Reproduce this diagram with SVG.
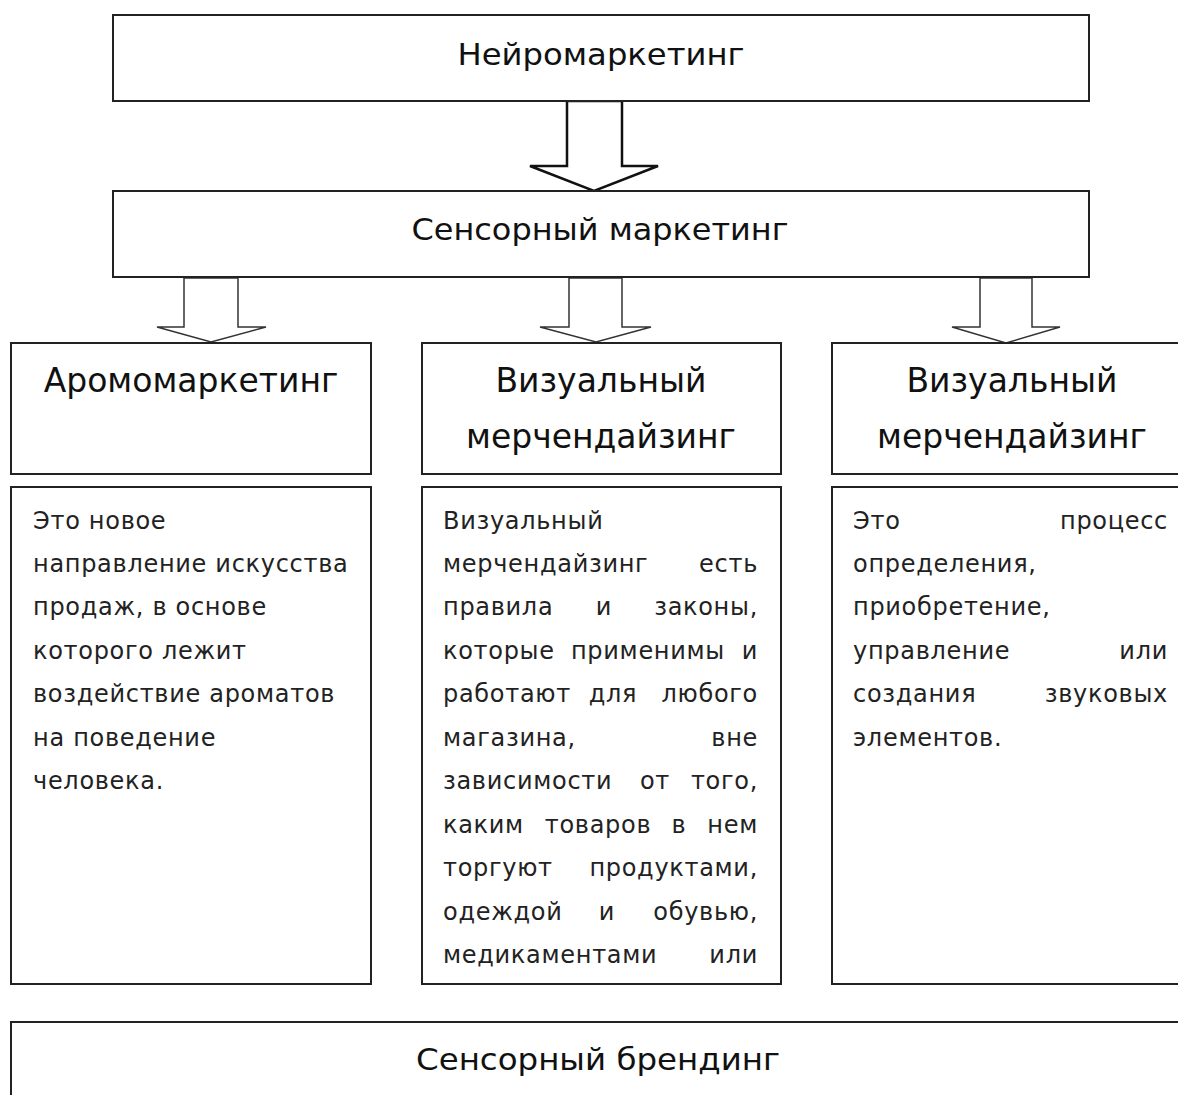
<svg xmlns="http://www.w3.org/2000/svg" width="1178" height="1095" viewBox="0 0 1178 1095">
<style>
.box{fill:#fff;stroke:#222;stroke-width:2}
.arr{fill:#fff;stroke:#333;stroke-width:1.5;stroke-linejoin:miter}
.big{fill:#fff;stroke:#111;stroke-width:2.5}
.title{font-family:"DejaVu Sans",sans-serif;font-size:30px;fill:#111;text-anchor:middle}
.head{font-family:"DejaVu Sans",sans-serif;font-size:33px;fill:#111;text-anchor:middle}
.body{font-family:"DejaVu Sans",sans-serif;font-size:24px;letter-spacing:0.7px;fill:#222}
.e{text-anchor:end}
.m{text-anchor:middle}
</style>
<rect width="1178" height="1095" fill="#fff"/>
<g id="connectors">
<polygon class="big" points="567,101 622,101 622,166 658,166 594,191 530,166 567,166"/>
<polygon class="arr" points="184,278 238,278 238,327 266,327 211,342 157,327 184,327"/>
<polygon class="arr" points="569,278 622,278 622,327 651,327 596,342 540,327 569,327"/>
<polygon class="arr" points="980,278 1032,278 1032,327 1060,327 1006,343 952,327 980,327"/>
</g>
<g id="neuro">
<rect class="box" x="113" y="15" width="976" height="86"/>
<text class="title" x="601" y="65" textLength="287" lengthAdjust="spacingAndGlyphs">Нейромаркетинг</text>
</g>
<g id="sensory-marketing">
<rect class="box" x="113" y="191" width="976" height="86"/>
<text class="title" x="600" y="240" textLength="377" lengthAdjust="spacingAndGlyphs">Сенсорный маркетинг</text>
</g>
<g id="aroma-head">
<rect class="box" x="11" y="343" width="360" height="131"/>
<text class="head" x="191" y="392">Аромомаркетинг</text>
</g>
<g id="visual-head">
<rect class="box" x="422" y="343" width="359" height="131"/>
<text class="head" x="601" y="392">Визуальный</text>
<text class="head" x="601" y="448">мерчендайзинг</text>
</g>
<g id="visual-head-2">
<rect class="box" x="832" y="343" width="360" height="131"/>
<text class="head" x="1012" y="392">Визуальный</text>
<text class="head" x="1012" y="448">мерчендайзинг</text>
</g>
<g id="aroma-text">
<rect class="box" x="11" y="487" width="360" height="497"/>
<text class="body" x="33" y="529">Это новое</text>
<text class="body" x="33" y="572">направление искусства</text>
<text class="body" x="33" y="615">продаж, в основе</text>
<text class="body" x="33" y="659">которого лежит</text>
<text class="body" x="33" y="702">воздействие ароматов</text>
<text class="body" x="33" y="746">на поведение</text>
<text class="body" x="33" y="789">человека.</text>
</g>
<g id="visual-text">
<rect class="box" x="422" y="487" width="359" height="497"/>
<text class="body" x="443" y="529">Визуальный</text>
<text class="body" y="572"><tspan x="443">мерчендайзинг</tspan><tspan class="e" x="758">есть</tspan></text>
<text class="body" y="615"><tspan x="443">правила</tspan><tspan class="m" x="604">и</tspan><tspan class="e" x="758">законы,</tspan></text>
<text class="body" y="659"><tspan x="443">которые</tspan><tspan class="m" x="648">применимы</tspan><tspan class="e" x="758">и</tspan></text>
<text class="body" y="702"><tspan x="443">работают</tspan><tspan class="m" x="613">для</tspan><tspan class="e" x="758">любого</tspan></text>
<text class="body" y="746"><tspan x="443">магазина,</tspan><tspan class="e" x="758">вне</tspan></text>
<text class="body" y="789"><tspan x="443">зависимости</tspan><tspan class="m" x="655">от</tspan><tspan class="e" x="758">того,</tspan></text>
<text class="body" y="833"><tspan x="443">каким</tspan><tspan class="m" x="598">товаров</tspan><tspan class="m" x="679">в</tspan><tspan class="e" x="758">нем</tspan></text>
<text class="body" y="876"><tspan x="443">торгуют</tspan><tspan class="e" x="758">продуктами,</tspan></text>
<text class="body" y="920"><tspan x="443">одеждой</tspan><tspan class="m" x="607">и</tspan><tspan class="e" x="758">обувью,</tspan></text>
<text class="body" y="963"><tspan x="443">медикаментами</tspan><tspan class="e" x="758">или</tspan></text>
</g>
<g id="sound-text">
<rect class="box" x="832" y="487" width="360" height="497"/>
<text class="body" y="529"><tspan x="853">Это</tspan><tspan class="e" x="1168">процесс</tspan></text>
<text class="body" x="853" y="572">определения,</text>
<text class="body" x="853" y="615">приобретение,</text>
<text class="body" y="659"><tspan x="853">управление</tspan><tspan class="e" x="1168">или</tspan></text>
<text class="body" y="702"><tspan x="853">создания</tspan><tspan class="e" x="1168">звуковых</tspan></text>
<text class="body" x="853" y="746">элементов.</text>
</g>
<g id="sensory-branding">
<rect class="box" x="11" y="1022" width="1190" height="100"/>
<text class="title" x="598" y="1070" textLength="364" lengthAdjust="spacingAndGlyphs">Сенсорный брендинг</text>
</g>
</svg>
